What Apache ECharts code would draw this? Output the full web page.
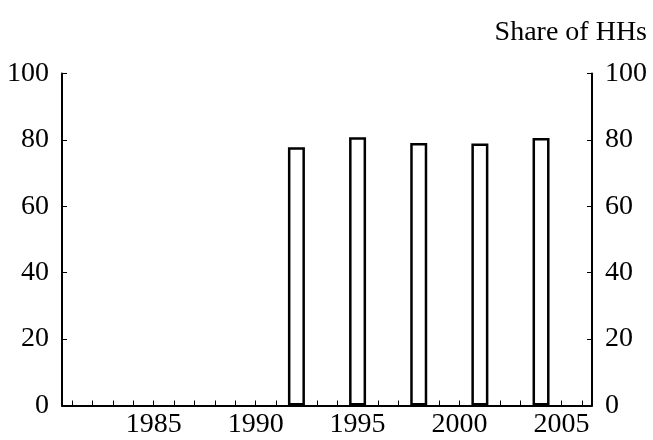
<!DOCTYPE html>
<html>
<head>
<meta charset="utf-8">
<script src="https://cdn.jsdelivr.net/npm/echarts@6/dist/echarts.min.js"></script>
<style>
  html, body { margin: 0; padding: 0; background: #fff; }
  #chart { width: 653px; height: 440px; }
</style>
</head>
<body>
<div id="chart"></div>
<script>
// years on the x axis
const years = ['1981', '1982', '1983', '1984', '1985', '1986', '1987', '1988', '1989', '1990',
  '1991', '1992', '1993', '1994', '1995', '1996', '1997', '1998', '1999', '2000',
  '2001', '2002', '2003', '2004', '2005', '2006']
// share of households, surveyed years only
const shareValues = [null, null, null, null, null, null, null, null, null, null,
  null, 77.8, null, null, 80.8, null, null, 79.1, null, null,
  78.9, null, null, 80.6, null, null]
const yTicks = [0, 20, 40, 60, 80, 100]

const font = '"Liberation Serif", "Times New Roman", serif'

const chart = echarts.init(document.getElementById('chart'))

const yAxisBase = (pos) => ({
  type: 'value',
  position: pos,
  min: yTicks[0],
  max: yTicks[yTicks.length - 1],
  interval: yTicks[1] - yTicks[0],
  axisLine: { show: true, lineStyle: { color: '#000', width: 2 } },
  axisTick: { show: true, inside: true, length: 5, lineStyle: { color: '#000', width: 1 } },
  splitLine: { show: false },
  axisLabel: { color: '#000', fontSize: 28, fontFamily: font, margin: 13 }
})

chart.setOption({
  animation: false,
  title: {
    text: 'Share of HHs',
    right: 1,
    top: 14,
    textStyle: { color: '#000', fontSize: 28, fontWeight: 'normal', fontFamily: font }
  },
  grid: { left: 62, right: 61, top: 73.5, bottom: 34.5 },
  xAxis: {
    type: 'category',
    data: years,
    boundaryGap: true,
    axisLine: { show: true, lineStyle: { color: '#000', width: 2 } },
    axisTick: {
      show: true,
      inside: true,
      alignWithLabel: true,
      interval: 0,
      length: 5,
      lineStyle: { color: '#000', width: 1 }
    },
    axisLabel: {
      color: '#000',
      fontSize: 28,
      fontFamily: font,
      margin: 5,
      interval: (i, v) => Number(v) % 5 === 0
    }
  },
  yAxis: [yAxisBase('left'), yAxisBase('right')],
  series: [
    {
      type: 'bar',
      data: shareValues,
      barWidth: 17,
      itemStyle: { color: '#fff', borderColor: '#000', borderWidth: 2.5 }
    }
  ]
})
</script>
</body>
</html>
